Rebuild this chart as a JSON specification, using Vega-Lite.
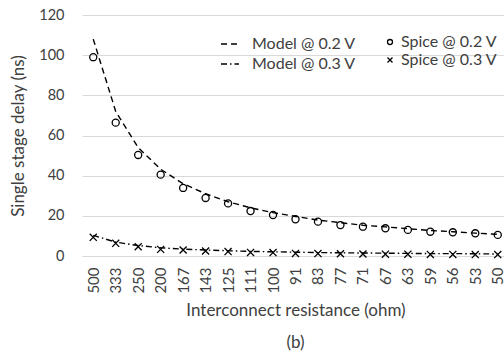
{
  "$schema": "https://vega.github.io/schema/vega-lite/v6.json",
  "width": 427,
  "height": 241,
  "autosize": "none",
  "padding": {"left": 82, "top": 15, "right": 0, "bottom": 100},
  "config": {
    "view": {"stroke": null},
    "font": "Lato",
    "axis": {"labelColor": "#404040", "titleColor": "#404040", "labelFontSize": 14.5, "titleFontSize": 17, "titleFontWeight": "normal", "labelFont": "Lato", "titleFont": "Lato"},
    "legend": {"labelColor": "#404040", "labelFontSize": 16, "labelFont": "Lato"}
  },
  "title": {"text": "(b)", "orient": "bottom", "anchor": "middle", "fontSize": 17, "fontWeight": "normal", "color": "#404040", "offset": 17, "font": "Lato"},
  "datasets": {
    "model": [
      {"r": "500", "series": "Model @ 0.2 V", "v": 108},
      {"r": "333", "series": "Model @ 0.2 V", "v": 72},
      {"r": "250", "series": "Model @ 0.2 V", "v": 54},
      {"r": "200", "series": "Model @ 0.2 V", "v": 43.2},
      {"r": "167", "series": "Model @ 0.2 V", "v": 36},
      {"r": "143", "series": "Model @ 0.2 V", "v": 31},
      {"r": "125", "series": "Model @ 0.2 V", "v": 27},
      {"r": "111", "series": "Model @ 0.2 V", "v": 24},
      {"r": "100", "series": "Model @ 0.2 V", "v": 21.6},
      {"r": "91", "series": "Model @ 0.2 V", "v": 19.7},
      {"r": "83", "series": "Model @ 0.2 V", "v": 17.9},
      {"r": "77", "series": "Model @ 0.2 V", "v": 16.6},
      {"r": "71", "series": "Model @ 0.2 V", "v": 15.3},
      {"r": "67", "series": "Model @ 0.2 V", "v": 14.5},
      {"r": "63", "series": "Model @ 0.2 V", "v": 13.6},
      {"r": "59", "series": "Model @ 0.2 V", "v": 12.7},
      {"r": "56", "series": "Model @ 0.2 V", "v": 12.1},
      {"r": "53", "series": "Model @ 0.2 V", "v": 11.4},
      {"r": "50", "series": "Model @ 0.2 V", "v": 10.8},
      {"r": "500", "series": "Model @ 0.3 V", "v": 10.3},
      {"r": "333", "series": "Model @ 0.3 V", "v": 6.9},
      {"r": "250", "series": "Model @ 0.3 V", "v": 5.2},
      {"r": "200", "series": "Model @ 0.3 V", "v": 4.1},
      {"r": "167", "series": "Model @ 0.3 V", "v": 3.4},
      {"r": "143", "series": "Model @ 0.3 V", "v": 3.0},
      {"r": "125", "series": "Model @ 0.3 V", "v": 2.6},
      {"r": "111", "series": "Model @ 0.3 V", "v": 2.3},
      {"r": "100", "series": "Model @ 0.3 V", "v": 2.1},
      {"r": "91", "series": "Model @ 0.3 V", "v": 1.9},
      {"r": "83", "series": "Model @ 0.3 V", "v": 1.7},
      {"r": "77", "series": "Model @ 0.3 V", "v": 1.6},
      {"r": "71", "series": "Model @ 0.3 V", "v": 1.5},
      {"r": "67", "series": "Model @ 0.3 V", "v": 1.4},
      {"r": "63", "series": "Model @ 0.3 V", "v": 1.3},
      {"r": "59", "series": "Model @ 0.3 V", "v": 1.2},
      {"r": "56", "series": "Model @ 0.3 V", "v": 1.2},
      {"r": "53", "series": "Model @ 0.3 V", "v": 1.1},
      {"r": "50", "series": "Model @ 0.3 V", "v": 1.0}
    ],
    "spice": [
      {"r": "500", "series": "Spice @ 0.2 V", "v": 99},
      {"r": "333", "series": "Spice @ 0.2 V", "v": 66.4},
      {"r": "250", "series": "Spice @ 0.2 V", "v": 50.3},
      {"r": "200", "series": "Spice @ 0.2 V", "v": 40.5},
      {"r": "167", "series": "Spice @ 0.2 V", "v": 33.9},
      {"r": "143", "series": "Spice @ 0.2 V", "v": 28.9},
      {"r": "125", "series": "Spice @ 0.2 V", "v": 26.2},
      {"r": "111", "series": "Spice @ 0.2 V", "v": 22.4},
      {"r": "100", "series": "Spice @ 0.2 V", "v": 20.4},
      {"r": "91", "series": "Spice @ 0.2 V", "v": 18.3},
      {"r": "83", "series": "Spice @ 0.2 V", "v": 17.1},
      {"r": "77", "series": "Spice @ 0.2 V", "v": 15.4},
      {"r": "71", "series": "Spice @ 0.2 V", "v": 14.6},
      {"r": "67", "series": "Spice @ 0.2 V", "v": 13.8},
      {"r": "63", "series": "Spice @ 0.2 V", "v": 13.0},
      {"r": "59", "series": "Spice @ 0.2 V", "v": 12.1},
      {"r": "56", "series": "Spice @ 0.2 V", "v": 11.8},
      {"r": "53", "series": "Spice @ 0.2 V", "v": 11.3},
      {"r": "50", "series": "Spice @ 0.2 V", "v": 10.5},
      {"r": "500", "series": "Spice @ 0.3 V", "v": 9.3},
      {"r": "333", "series": "Spice @ 0.3 V", "v": 6.3},
      {"r": "250", "series": "Spice @ 0.3 V", "v": 4.6},
      {"r": "200", "series": "Spice @ 0.3 V", "v": 3.3},
      {"r": "167", "series": "Spice @ 0.3 V", "v": 3.0},
      {"r": "143", "series": "Spice @ 0.3 V", "v": 2.5},
      {"r": "125", "series": "Spice @ 0.3 V", "v": 2.2},
      {"r": "111", "series": "Spice @ 0.3 V", "v": 1.8},
      {"r": "100", "series": "Spice @ 0.3 V", "v": 1.7},
      {"r": "91", "series": "Spice @ 0.3 V", "v": 1.3},
      {"r": "83", "series": "Spice @ 0.3 V", "v": 1.2},
      {"r": "77", "series": "Spice @ 0.3 V", "v": 1.1},
      {"r": "71", "series": "Spice @ 0.3 V", "v": 1.0},
      {"r": "67", "series": "Spice @ 0.3 V", "v": 0.9},
      {"r": "63", "series": "Spice @ 0.3 V", "v": 0.9},
      {"r": "59", "series": "Spice @ 0.3 V", "v": 0.8},
      {"r": "56", "series": "Spice @ 0.3 V", "v": 0.8},
      {"r": "53", "series": "Spice @ 0.3 V", "v": 0.7},
      {"r": "50", "series": "Spice @ 0.3 V", "v": 0.7}
    ]
  },
  "encoding": {
    "x": {
      "field": "r", "type": "ordinal",
      "scale": {"domain": ["500","333","250","200","167","143","125","111","100","91","83","77","71","67","63","59","56","53","50"]},
      "axis": {"title": "Interconnect resistance (ohm)", "labelAngle": -90, "labelPadding": 11, "labelFontSize": 15, "ticks": false, "domain": true, "domainColor": "#d9d9d9", "titlePadding": 9, "grid": false}
    },
    "y": {
      "field": "v", "type": "quantitative",
      "scale": {"domain": [0, 120], "nice": false},
      "axis": {"title": "Single stage delay (ns)", "values": [0,20,40,60,80,100,120], "ticks": false, "domain": false, "gridColor": "#d9d9d9", "labelPadding": 18, "titlePadding": 11}
    }
  },
  "layer": [
    {
      "data": {"name": "model"},
      "mark": {"type": "line", "color": "black", "strokeWidth": 1.4},
      "encoding": {
        "strokeDash": {
          "field": "series", "type": "nominal",
          "scale": {"domain": ["Model @ 0.2 V", "Model @ 0.3 V"], "range": [[6, 4], [6, 3, 1.5, 3]]},
          "legend": {"title": null, "orient": "none", "legendX": 138, "legendY": 19, "symbolSize": 324, "symbolStrokeWidth": 1.4, "symbolStrokeColor": "black", "labelOffset": 12, "rowPadding": 2, "padding": 0}
        }
      }
    },
    {
      "data": {"name": "spice"},
      "mark": {"type": "point", "filled": false, "color": "black", "size": 50, "strokeWidth": 1.3, "opacity": 1},
      "encoding": {
        "shape": {
          "field": "series", "type": "nominal",
          "scale": {"domain": ["Spice @ 0.2 V", "Spice @ 0.3 V"], "range": ["circle", "M-1,-1L1,1M-1,1L1,-1"]},
          "legend": {"title": null, "orient": "none", "legendX": 300, "legendY": 19, "symbolSize": 25, "symbolStrokeWidth": 1.3, "symbolStrokeColor": "black", "symbolFillColor": "transparent", "labelOffset": 3, "rowPadding": 2, "padding": 0}
        }
      }
    }
  ]
}
